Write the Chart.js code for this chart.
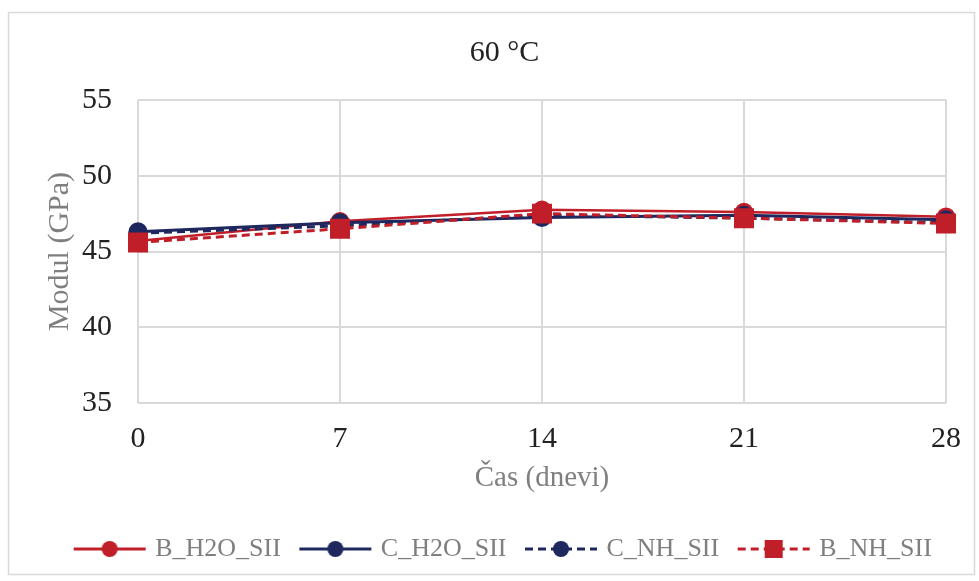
<!DOCTYPE html>
<html>
<head>
<meta charset="utf-8">
<script src="https://cdn.jsdelivr.net/npm/chart.js@4"></script>
<style>
  html, body { margin: 0; padding: 0; background: #fff; }
  #wrap { width: 979px; height: 581px; }
</style>
</head>
<body>
<div id="wrap"><canvas id="modulChart" width="979" height="581"></canvas></div>
<script>
const days = ['0', '7', '14', '21', '28'];
const bH2O = [45.7, 47.0, 47.75, 47.6, 47.3];
const cH2O = [46.3, 46.9, 47.25, 47.4, 47.1];
const cNH = [46.2, 46.7, 47.4, 47.2, 46.9];
const bNH = [45.6, 46.5, 47.5, 47.2, 46.85];
const yTicks = [35, 40, 45, 50, 55];

const RED = 'rgb(192, 30, 40)';
const NAVY = 'rgb(30, 40, 94)';
const SERIF = "'Liberation Serif', 'Times New Roman', serif";

// legend marker: short line with the point in the middle
function legendIcon(color, dashed, square) {
    const c = document.createElement('canvas');
    c.width = 80;
    c.height = 24;
    const g = c.getContext('2d');
    g.strokeStyle = color;
    g.lineWidth = 3;
    if (dashed) g.setLineDash([8, 5]);
    g.beginPath();
    g.moveTo(4, 12);
    g.lineTo(76, 12);
    g.stroke();
    g.fillStyle = color;
    if (square) {
        g.fillRect(31, 3, 18, 18);
    } else {
        g.beginPath();
        g.arc(40, 12, 8, 0, Math.PI * 2);
        g.fill();
    }
    return c;
}

const frame = {
    id: 'frame',
    beforeDraw(chart) {
        const g = chart.ctx;
        g.save();
        g.strokeStyle = '#d9d9d9';
        g.lineWidth = 1.5;
        g.strokeRect(8.5, 12.5, 966, 562);
        g.restore();
    }
};

const ctx = document.getElementById('modulChart').getContext('2d');

const modulChart = new Chart(ctx, {
    type: 'line',
    data: {
        labels: days,
        datasets: [
            {
                label: 'B_H2O_SII',
                data: bH2O,
                borderColor: RED,
                backgroundColor: RED,
                borderWidth: 2.5,
                pointRadius: 8,
                pointStyle: 'circle',
                order: 4,
                icon: legendIcon(RED, false, false)
            },
            {
                label: 'C_H2O_SII',
                data: cH2O,
                borderColor: NAVY,
                backgroundColor: NAVY,
                borderWidth: 3,
                pointRadius: 8,
                pointStyle: 'circle',
                order: 3,
                icon: legendIcon(NAVY, false, false)
            },
            {
                label: 'C_NH_SII',
                data: cNH,
                borderColor: NAVY,
                backgroundColor: NAVY,
                borderWidth: 3,
                borderDash: [8, 5],
                pointRadius: 8,
                pointStyle: 'circle',
                order: 2,
                icon: legendIcon(NAVY, true, false)
            },
            {
                label: 'B_NH_SII',
                data: bNH,
                borderColor: RED,
                backgroundColor: RED,
                borderWidth: 3,
                borderDash: [8, 5],
                pointRadius: 12,
                pointStyle: 'rect',
                order: 1,
                icon: legendIcon(RED, true, true)
            }
        ]
    },
    options: {
        responsive: false,
        animation: false,
        layout: { padding: { left: 30, right: 0, top: 0, bottom: 9 } },
        scales: {
            x: {
                offset: false,
                grid: { color: '#d9d9d9', lineWidth: 2, drawTicks: false },
                border: { display: false },
                ticks: { color: '#222', padding: 18, font: { family: SERIF, size: 30 } },
                title: {
                    display: true,
                    text: 'Čas (dnevi)',
                    color: '#7f7f7f',
                    font: { family: SERIF, size: 29 },
                    padding: { top: 0, bottom: 18 }
                },
                afterFit(s) { s.height = 111; }
            },
            y: {
                min: 35,
                max: 55,
                afterBuildTicks(s) { s.ticks = yTicks.map(v => ({ value: v })); },
                grid: { color: '#d9d9d9', lineWidth: 2, drawTicks: false },
                border: { display: false },
                ticks: { color: '#222', padding: 26, font: { family: SERIF, size: 30 } },
                title: {
                    display: true,
                    text: 'Modul (GPa)',
                    color: '#7f7f7f',
                    font: { family: SERIF, size: 30 },
                    padding: { top: 12, bottom: 0 }
                },
                afterFit(s) { s.width = 108; }
            },
            yr: {
                position: 'right',
                grid: { display: false },
                border: { display: false },
                ticks: { display: false },
                afterFit(s) { s.width = 28; }
            }
        },
        plugins: {
            title: {
                display: true,
                text: '60 °C',
                color: '#222',
                font: { family: SERIF, size: 30, weight: 'normal' },
                padding: { top: 35, bottom: 29 }
            },
            legend: {
                position: 'bottom',
                labels: {
                    usePointStyle: true,
                    pointStyleWidth: 65,
                    padding: 22,
                    color: '#7f7f7f',
                    font: { family: SERIF, size: 26 },
                    generateLabels(chart) {
                        return chart.data.datasets.map((d, i) => ({
                            text: d.label,
                            pointStyle: d.icon,
                            fontColor: '#7f7f7f',
                            strokeStyle: d.borderColor,
                            fillStyle: d.backgroundColor,
                            lineWidth: 0,
                            hidden: false,
                            datasetIndex: i
                        }));
                    }
                }
            },
            tooltip: { enabled: false }
        }
    },
    plugins: [frame]
});
</script>
</body>
</html>
